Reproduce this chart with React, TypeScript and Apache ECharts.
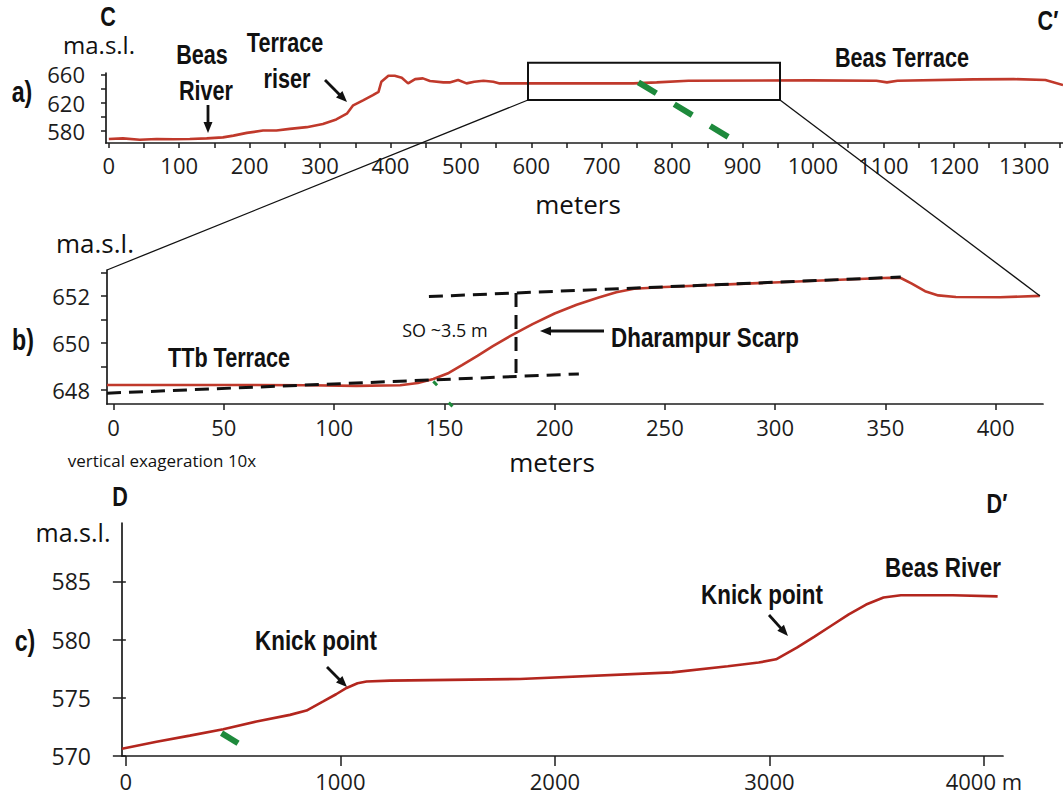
import React, { useEffect, useRef } from 'react';
import * as echarts from 'echarts';

// ---------- Panel a: C – C' profile ----------
const aDist = [0, 20, 44, 68, 92, 115, 139, 162, 177, 196, 219, 238, 257, 281, 304, 323, 338, 347, 361, 375, 383, 387, 397, 406, 416, 425, 435, 446, 456, 475, 484, 496, 508, 519, 532, 546, 555, 626, 745, 778, 823, 996, 1090, 1105, 1120, 1228, 1285, 1330, 1355];
const aElev = [568.7, 569.6, 567.7, 568.7, 568.2, 568.7, 569.6, 571, 573.4, 577.3, 580.6, 580.6, 583, 585.4, 590, 596.3, 604.4, 616.3, 623.4, 630.6, 635.3, 649.6, 658.2, 658.2, 655.3, 647.3, 653.4, 654.4, 650.6, 648.7, 648.7, 652, 647.3, 649.6, 651, 649.6, 647.3, 647.3, 647.3, 648.7, 651, 651.5, 651, 648.7, 651, 653, 653.4, 652, 644.9];
const aGreenDist = [752, 882];
const aGreenElev = [648.7, 570.1];
const aXTicks = [0, 50, 100, 150, 200, 250, 300, 350, 400, 450, 500, 550, 600, 650, 700, 750, 800, 850, 900, 950, 1000, 1050, 1100, 1150, 1200, 1250, 1300, 1350];
const aXLabels = [0, 100, 200, 300, 400, 500, 600, 700, 800, 900, 1000, 1100, 1200, 1300];
const aYTicks = [580, 600, 620, 640, 660];
const aYLabels = [580, 620, 660];

// ---------- Panel b: zoom on Dharampur scarp ----------
const bDist = [-3, 50, 88, 110, 130, 138, 145, 152, 158, 165, 172, 180, 190, 200, 210, 220, 228, 236, 250, 284, 318, 352, 357, 362, 368, 374, 382, 402, 420];
const bElev = [648.21, 648.21, 648.2, 648.17, 648.2, 648.29, 648.46, 648.72, 649.05, 649.45, 649.86, 650.3, 650.8, 651.25, 651.62, 651.93, 652.15, 652.3, 652.38, 652.51, 652.64, 652.77, 652.76, 652.52, 652.2, 652.02, 651.95, 651.94, 652.0];
const bLowerDashDist = [-3, 211];
const bLowerDashElev = [647.86, 648.68];
const bUpperDashDist = [143, 357];
const bUpperDashElev = [651.97, 652.8];
const bOffsetDist = [182.5, 182.5];
const bOffsetElev = [652.12, 648.58];
const bGreen1Dist = [145, 146.7];
const bGreen1Elev = [648.36, 648.2];
const bGreen2Dist = [152, 153.7];
const bGreen2Elev = [647.46, 647.3];
const bXTicks = [0, 50, 100, 150, 200, 250, 300, 350, 400];
const bYTicks = [648, 649, 650, 651, 652, 653];
const bYLabels = [648, 650, 652];

// ---------- Panel c: D – D' profile ----------
const cDist = [-18, 143, 298, 454, 609, 765, 842, 920, 980, 1029, 1080, 1122, 1231, 1837, 2547, 2806, 2950, 3031, 3128, 3210, 3290, 3370, 3451, 3532, 3613, 3855, 4064];
const cElev = [570.62, 571.23, 571.75, 572.3, 572.96, 573.53, 573.9, 574.68, 575.3, 575.84, 576.25, 576.4, 576.47, 576.61, 577.18, 577.7, 578.02, 578.3, 579.3, 580.25, 581.2, 582.15, 583.0, 583.6, 583.8, 583.8, 583.7];
const cGreenDist = [446, 523];
const cGreenElev = [571.96, 571.09];
const cXTicks = [0, 1000, 2000, 3000, 4000];
const cYTicks = [570, 575, 580, 585];

const pairs = (xs: number[], ys: number[]) => xs.map((x, i) => [x, ys[i]]);

const NUM_FONT = "'Open Sans', 'Lato', sans-serif";
const BOLD_FONT = "'Liberation Sans', Arial, sans-serif";
const INK = '#1c1c1c';
const RED = '#c0392b';
const GREEN = '#1e8a3c';

function arrow(x1: number, y1: number, x2: number, y2: number) {
  const head = 11;
  const w = 9;
  const dx = x2 - x1;
  const dy = y2 - y1;
  const L = Math.hypot(dx, dy);
  const ux = dx / L;
  const uy = dy / L;
  const bx = x2 - ux * head;
  const by = y2 - uy * head;
  const px = -uy;
  const py = ux;
  return {
    type: 'group',
    children: [
      { type: 'line', shape: { x1, y1, x2: bx + ux * 2, y2: by + uy * 2 }, style: { stroke: '#111', lineWidth: 2.8 } },
      {
        type: 'polygon',
        shape: { points: [[x2, y2], [bx + (px * w) / 2, by + (py * w) / 2], [bx - (px * w) / 2, by - (py * w) / 2]] },
        style: { fill: '#111' },
      },
    ],
  };
}

function label(text: string, x: number, y: number, size: number, bold: boolean) {
  return {
    type: 'text',
    x,
    y,
    scaleX: bold ? 0.8 : 1,
    style: {
      text,
      fontSize: size,
      fontFamily: bold ? BOLD_FONT : NUM_FONT,
      fontWeight: bold ? 'bold' : 'normal',
      fill: '#111',
      align: 'center',
      verticalAlign: 'middle',
    },
  };
}

const plain = (v: number) => String(v);
const cXFormat = (v: number) => (v === 4000 ? '4000 m' : String(v));
const axisLine = { show: true, onZero: false, lineStyle: { color: INK, width: 1.7 } };
const tickStyle = { color: INK, width: 1.5 };

export default function App() {
  const ref = useRef<HTMLDivElement>(null);
  useEffect(() => {
    if (!ref.current) return;
    const chart = echarts.init(ref.current, undefined, { renderer: 'svg' });
    const option: any = {
      animation: false,
      backgroundColor: '#ffffff',
      grid: [
        { left: 106, top: 73, width: 957, height: 70 },
        { left: 107, top: 270, width: 936, height: 134 },
        { left: 122, top: 523, width: 881, height: 233 },
      ],
      xAxis: [
        {
          gridIndex: 0, type: 'value', min: -4, max: 1355,
          axisLine,
          axisTick: { show: true, customValues: aXTicks, length: 5, lineStyle: tickStyle },
          axisLabel: { customValues: aXLabels, formatter: plain, margin: 11, fontSize: 22, fontFamily: NUM_FONT, color: INK },
          splitLine: { show: false },
        },
        {
          gridIndex: 1, type: 'value', min: -3, max: 421.5,
          axisLine,
          axisTick: { show: true, customValues: bXTicks, length: 6, lineStyle: tickStyle },
          axisLabel: { customValues: bXTicks, formatter: plain, margin: 12, fontSize: 22, fontFamily: NUM_FONT, color: INK },
          splitLine: { show: false },
        },
        {
          gridIndex: 2, type: 'value', min: -18, max: 4089,
          axisLine,
          axisTick: { show: true, customValues: cXTicks, length: 10, lineStyle: tickStyle },
          axisLabel: { customValues: cXTicks, formatter: cXFormat, margin: 14, fontSize: 22, fontFamily: NUM_FONT, color: INK },
          splitLine: { show: false },
        },
      ],
      yAxis: [
        {
          gridIndex: 0, type: 'value', min: 563, max: 662, position: 'left',
          axisLine,
          axisTick: { show: true, customValues: aYTicks, length: 5, lineStyle: tickStyle },
          axisLabel: { customValues: aYLabels, formatter: plain, margin: 21, fontSize: 22, fontFamily: NUM_FONT, color: INK },
          splitLine: { show: false },
        },
        {
          gridIndex: 1, type: 'value', min: 647.4, max: 653.1, position: 'left',
          axisLine,
          axisTick: { show: true, customValues: bYTicks, length: 6, lineStyle: tickStyle },
          axisLabel: { customValues: bYLabels, formatter: plain, margin: 17, fontSize: 22, fontFamily: NUM_FONT, color: INK },
          splitLine: { show: false },
        },
        {
          gridIndex: 2, type: 'value', min: 570, max: 590, position: 'left',
          axisLine,
          axisTick: { show: false },
          axisLabel: { show: false },
          splitLine: { show: false },
        },
        {
          gridIndex: 2, type: 'value', min: 570, max: 590, position: 'left', offset: 8,
          axisLine: { show: false },
          axisTick: { show: true, customValues: cYTicks, length: 13, lineStyle: tickStyle },
          axisLabel: { customValues: cYTicks, formatter: plain, margin: 23, fontSize: 23, fontFamily: NUM_FONT, color: INK },
          splitLine: { show: false },
        },
      ],
      series: [
        {
          type: 'line', xAxisIndex: 0, yAxisIndex: 0, data: pairs(aDist, aElev), symbol: 'none',
          lineStyle: { color: RED, width: 2.6 }, z: 2,
        },
        {
          type: 'line', xAxisIndex: 0, yAxisIndex: 0, data: pairs(aGreenDist, aGreenElev), symbol: 'none',
          lineStyle: { color: GREEN, width: 6, type: [21, 21] }, z: 4,
        },
        {
          type: 'line', xAxisIndex: 1, yAxisIndex: 1, data: pairs(bDist, bElev), symbol: 'none',
          lineStyle: { color: RED, width: 2.6 }, z: 2,
        },
        {
          type: 'line', xAxisIndex: 1, yAxisIndex: 1, data: pairs(bLowerDashDist, bLowerDashElev), symbol: 'none',
          lineStyle: { color: '#111', width: 3, type: [14, 8] }, z: 4,
        },
        {
          type: 'line', xAxisIndex: 1, yAxisIndex: 1, data: pairs(bUpperDashDist, bUpperDashElev), symbol: 'none',
          lineStyle: { color: '#111', width: 3, type: [14, 8] }, z: 4,
        },
        {
          type: 'line', xAxisIndex: 1, yAxisIndex: 1, data: pairs(bOffsetDist, bOffsetElev), symbol: 'none',
          lineStyle: { color: '#111', width: 3, type: [14, 8] }, z: 4,
        },
        {
          type: 'line', xAxisIndex: 1, yAxisIndex: 1, data: pairs(bGreen1Dist, bGreen1Elev), symbol: 'none',
          lineStyle: { color: GREEN, width: 3 }, z: 5, clip: false,
        },
        {
          type: 'line', xAxisIndex: 1, yAxisIndex: 1, data: pairs(bGreen2Dist, bGreen2Elev), symbol: 'none',
          lineStyle: { color: GREEN, width: 3 }, z: 5, clip: false,
        },
        {
          type: 'line', xAxisIndex: 2, yAxisIndex: 2, data: pairs(cDist, cElev), symbol: 'none',
          lineStyle: { color: '#b3261e', width: 2.6 }, z: 2,
        },
        {
          type: 'line', xAxisIndex: 2, yAxisIndex: 2, data: pairs(cGreenDist, cGreenElev), symbol: 'none',
          lineStyle: { color: GREEN, width: 6 }, z: 4,
        },
      ],
      graphic: [
        // zoom box and connectors
        { type: 'rect', shape: { x: 528, y: 62.7, width: 252, height: 37.3 }, style: { fill: 'none', stroke: '#111', lineWidth: 2 }, z: 10 },
        { type: 'line', shape: { x1: 528, y1: 100, x2: 107, y2: 270 }, style: { stroke: '#111', lineWidth: 1.3 }, z: 10 },
        { type: 'line', shape: { x1: 780, y1: 100, x2: 1040, y2: 296 }, style: { stroke: '#111', lineWidth: 1.3 }, z: 10 },
        // panel a
        label('C', 108, 17, 27, true),
        label('C\u2032', 1048, 21, 27, true),
        label('ma.s.l.', 99, 44, 24, false),
        label('a)', 22, 92, 29, true),
        label('Beas', 202, 55, 27, true),
        label('River', 206, 91, 27, true),
        label('Terrace', 285, 43, 27, true),
        label('riser', 287, 79, 27, true),
        label('Beas Terrace', 902, 58, 27, true),
        label('meters', 578, 204, 26, false),
        arrow(208, 105, 208, 133),
        arrow(325, 80, 347, 102),
        // panel b
        label('ma.s.l.', 95, 243, 26, false),
        label('b)', 23, 340, 29, true),
        label('TTb Terrace', 229, 358, 27, true),
        label('SO ~3.5 m', 445, 330, 18, false),
        label('Dharampur Scarp', 705, 337, 28, true),
        arrow(604, 331, 540, 331),
        label('vertical exageration 10x', 162, 460, 17, false),
        label('meters', 552, 462, 26, false),
        // panel c
        label('D', 120, 497, 27, true),
        label('D\u2032', 997, 504, 27, true),
        label('ma.s.l.', 73, 532, 25, false),
        label('c)', 25, 641, 29, true),
        label('Knick point', 316, 640, 28, true),
        arrow(327, 667, 347, 687),
        label('Knick point', 762, 594, 28, true),
        arrow(769, 615, 788, 636),
        label('Beas River', 943, 567, 28, true),
      ],
    };
    chart.setOption(option);
    return () => chart.dispose();
  }, []);
  return (
    <div
      ref={ref}
      style={{ position: 'absolute', left: 0, top: 0, width: 1063, height: 796, background: '#fff' }}
    />
  );
}
